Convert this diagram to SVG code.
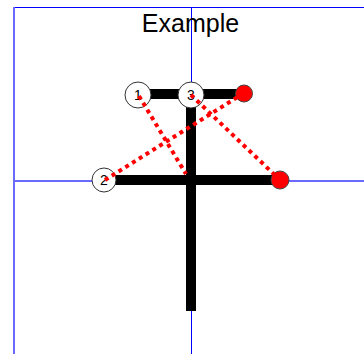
<svg xmlns="http://www.w3.org/2000/svg" width="364" height="354" viewBox="0 0 364 354">
<style>
.axis{stroke:#0000ff;stroke-width:1;fill:none}
.axis2{stroke:#6a6aff;stroke-width:2;fill:none}
.bar{stroke:#000;stroke-width:10;stroke-linecap:butt;fill:none}
.dot{stroke:#ff0000;stroke-width:4;stroke-dasharray:4,4;fill:none}
.wn{fill:#fff;stroke:#333;stroke-width:1}
.rn{fill:#ff0000;stroke:#444;stroke-width:1}
.lbl{font-family:"Liberation Sans",Arial,sans-serif;font-size:14px;fill:#000;text-anchor:middle}
.title{font-family:"Liberation Sans",Arial,sans-serif;font-size:25px;fill:#000;text-anchor:middle}
</style>
<rect width="364" height="354" fill="#fff"/>
<g id="axes">
<line class="axis" x1="14" y1="7.5" x2="364" y2="7.5"/>
<line class="axis2" x1="14" y1="7" x2="14" y2="354"/>
<line class="axis2" x1="14" y1="181" x2="364" y2="181"/>
<line class="axis" x1="191.5" y1="7" x2="191.5" y2="354"/>
</g>
<text class="title" x="190.5" y="32">Example</text>
<g id="connectors">
<line class="bar" x1="138" y1="94" x2="244" y2="94"/>
<line class="bar" x1="191" y1="94" x2="191" y2="311"/>
<line class="bar" x1="104" y1="180" x2="280" y2="180"/>
</g>
<g id="n1"><circle class="wn" cx="138" cy="95" r="13"/></g>
<g id="n3"><circle class="wn" cx="191" cy="95" r="13"/></g>
<g id="n2"><circle class="wn" cx="104" cy="180" r="12"/></g>
<g id="r1"><circle class="rn" cx="244" cy="93.5" r="8.5"/></g>
<g id="r2"><circle class="rn" cx="280" cy="180" r="9"/></g>
<g id="labels">
<text class="lbl" x="138" y="100">1</text>
<text class="lbl" x="191" y="100">3</text>
<text class="lbl" x="104" y="185">2</text>
</g>
<g id="dotted">
<line class="dot" x1="139" y1="96" x2="186" y2="174"/>
<line class="dot" x1="105" y1="180" x2="244" y2="93"/>
<line class="dot" x1="191" y1="95" x2="280" y2="180"/>
</g>
</svg>
